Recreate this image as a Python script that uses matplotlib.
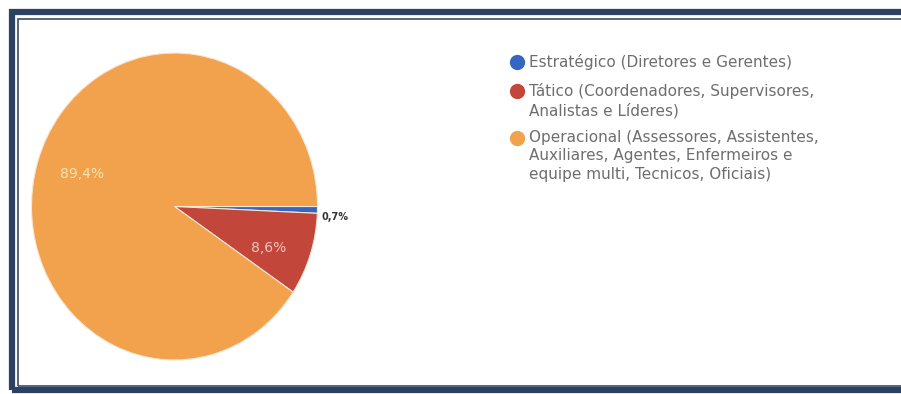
import matplotlib.pyplot as plt
from matplotlib.patches import Rectangle
from matplotlib.lines import Line2D

# data
categories = ['Estratégico (Diretores e Gerentes)',
              'Tático (Coordenadores, Supervisores,\nAnalistas e Líderes)',
              'Operacional (Assessores, Assistentes,\nAuxiliares, Agentes, Enfermeiros e\nequipe multi, Tecnicos, Oficiais)']
values = [0.7, 8.6, 89.4]
pct_labels = ['0,7%', '8,6%', '89,4%']
colors = ['#3566c4', '#c2473a', '#f2a24c']

W, H = 901, 394
fig = plt.figure(figsize=(W / 100, H / 100), dpi=100)

# double navy frame (scanned page border)
fig.patches.append(Rectangle((12 / W, 4.5 / H), 1.2, (H - 16.5) / H, transform=fig.transFigure,
                             fill=False, ec='#2d4263', lw=4.5))
fig.patches.append(Rectangle((17.5 / W, 8.5 / H), 1.2, (H - 27) / H, transform=fig.transFigure,
                             fill=False, ec='#3a4c68', lw=1.2))

# pie axes (scan is a little taller than wide)
cx, cy, rx, ry = 174.5, 206.5, 143, 153.5
ax = fig.add_axes([(cx - rx) / W, (H - cy - ry) / H, 2 * rx / W, 2 * ry / H])
wedges, _ = ax.pie(values, colors=colors, startangle=0, counterclock=False,
                   wedgeprops=dict(linewidth=0.8, edgecolor='#f6e6d6'))
ax.set_aspect('auto')
ax.set_xlim(-1, 1)
ax.set_ylim(-1, 1)

# percent labels
ax.text(-0.65, 0.21, pct_labels[2], color='#f8e3b0', fontsize=10, ha='center', va='center')
ax.text(0.66, -0.27, pct_labels[1], color='#f0c4bc', fontsize=10, ha='center', va='center')
ax.text(1.03, -0.07, pct_labels[0], color='#333333', fontsize=7, fontweight='bold',
        ha='left', va='center')

# legend drawn by hand so the dot sits on the first line of each entry
y = 62
for cat, c in zip(categories, colors):
    fig.add_artist(Line2D([517 / W], [1 - y / H], marker='o', ls='', markersize=10,
                          markerfacecolor=c, markeredgecolor=c, transform=fig.transFigure))
    fig.text(529 / W, 1 - (y - 8) / H, cat, fontsize=11, color='#6e6e6e', va='top',
             ha='left', linespacing=1.29)
    y += 18 * (cat.count('\n') + 1) + 11

fig.savefig('out.png', dpi=100)
